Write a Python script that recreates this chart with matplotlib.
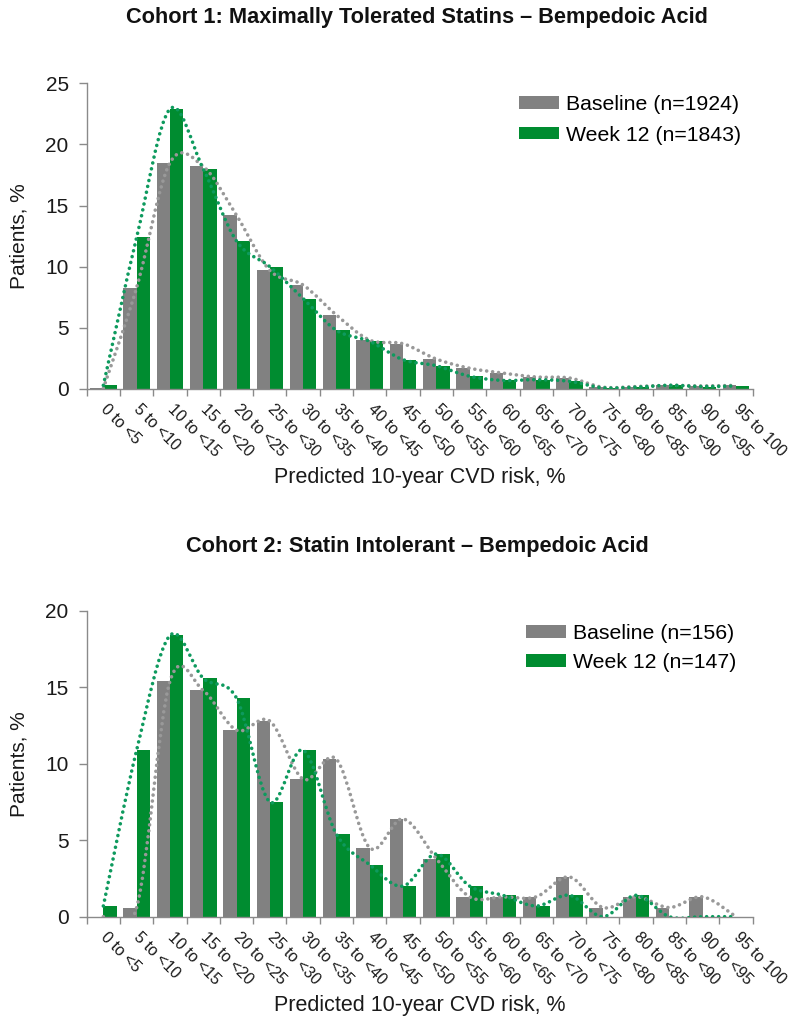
import numpy as np
import matplotlib
matplotlib.use("Agg")
import matplotlib.pyplot as plt
from matplotlib.path import Path
from matplotlib.patches import PathPatch

plt.rcParams['font.family'] = ['Liberation Sans', 'DejaVu Sans']

categories = ["0 to <5", "5 to <10", "10 to <15", "15 to <20", "20 to <25",
              "25 to <30", "30 to <35", "35 to <40", "40 to <45", "45 to <50",
              "50 to <55", "55 to <60", "60 to <65", "65 to <70", "70 to <75",
              "75 to <80", "80 to <85", "85 to <90", "90 to <95", "95 to 100"]

c1_baseline = [0.05, 8.3, 18.5, 18.2, 14.2, 9.7, 8.5, 6.05, 4.0, 3.7,
               2.45, 1.7, 1.3, 0.98, 0.9, 0.15, 0.2, 0.3, 0.25, 0.3]
c1_week12 = [0.3, 12.4, 22.9, 18.0, 12.1, 10.0, 7.4, 4.8, 3.9, 2.4,
             1.9, 1.04, 0.7, 0.76, 0.63, 0.1, 0.15, 0.3, 0.2, 0.25]

c2_baseline = [0.0, 0.6, 15.4, 14.8, 12.2, 12.8, 9.0, 10.3, 4.5, 6.4,
               3.8, 1.3, 1.3, 1.3, 2.6, 0.6, 1.3, 0.6, 1.3, 0.0]
c2_week12 = [0.7, 10.9, 18.4, 15.6, 14.3, 7.5, 10.9, 5.4, 3.4, 2.0,
             4.1, 2.0, 1.4, 0.7, 1.4, 0.0, 1.4, 0.0, 0.0, 0.0]

titles = ["Cohort 1: Maximally Tolerated Statins \u2013 Bempedoic Acid",
          "Cohort 2: Statin Intolerant \u2013 Bempedoic Acid"]
legend_labels = [["Baseline (n=1924)", "Week 12 (n=1843)"],
                 ["Baseline (n=156)", "Week 12 (n=147)"]]
y_max = [25, 20]
xlabel = "Predicted 10-year CVD risk, %"
ylabel = "Patients, %"

GREY = "#818181"
GREEN = "#008C30"
GREY_DOT = "#999999"
GREEN_DOT = "#0E9A5E"
SPINE = "#8A8A8A"

W, H = 790, 1024
fig = plt.figure(figsize=(W / 100, H / 100), dpi=100)


def smooth_path(xs, ys):
    pts = np.column_stack([xs, ys]).astype(float)
    n = len(pts)
    verts = [pts[0]]
    codes = [Path.MOVETO]
    for i in range(n - 1):
        p0 = pts[max(i - 1, 0)]
        p1 = pts[i]
        p2 = pts[i + 1]
        p3 = pts[min(i + 2, n - 1)]
        c1 = p1 + (p2 - p0) / 6.0
        c2 = p2 - (p3 - p1) / 6.0
        verts += [c1, c2, p2]
        codes += [Path.CURVE4] * 3
    return Path(verts, codes)


def px_axes(left, top, right, bottom):
    return [left / W, 1 - bottom / H, (right - left) / W, (bottom - top) / H]


axes_specs = [
    dict(rect=px_axes(86.7, 83.3, 752.6, 389.0), base=c1_baseline, wk=c1_week12,
         title_y=23, leg=(519, 95), lsp=0.55),
    dict(rect=px_axes(86.7, 611.0, 752.6, 916.7), base=c2_baseline, wk=c2_week12,
         title_y=552, leg=(526, 624), lsp=0.48),
]

x = np.arange(len(categories))
for k, spec in enumerate(axes_specs):
    ax = fig.add_axes(spec["rect"])
    b1 = ax.bar(x - 0.2, spec["base"], width=0.4, color=GREY, zorder=2)
    b2 = ax.bar(x + 0.2, spec["wk"], width=0.4, color=GREEN, zorder=2)
    for vals, col in [(spec["base"], GREY_DOT), (spec["wk"], GREEN_DOT)]:
        patch = PathPatch(smooth_path(x, vals), fill=False, edgecolor=col, lw=2.6,
                          linestyle=(0, (0.01, 1.65)), capstyle='round', zorder=3)
        ax.add_patch(patch)

    ax.set_xlim(-0.5, len(categories) - 0.5)
    ax.set_ylim(0, y_max[k])
    ax.set_yticks(np.arange(0, y_max[k] + 1, 5))
    ax.set_xticks(x)
    ax.set_xticklabels(categories, rotation=-45, ha='left', va='center',
                       rotation_mode='anchor', fontsize=11.5, color='#1a1a1a')
    ax.set_xticks(np.arange(-0.5, len(categories), 1), minor=True)
    ax.tick_params(axis='x', which='major', length=0, pad=13)
    ax.tick_params(axis='x', which='minor', length=5, width=1.0, color=SPINE,
                   direction='out')
    ax.tick_params(axis='y', length=6, width=1.0, color=SPINE, pad=7,
                   labelsize=15, labelcolor='#1a1a1a')
    for s in ['top', 'right']:
        ax.spines[s].set_visible(False)
    for s in ['left', 'bottom']:
        ax.spines[s].set_color(SPINE)
        ax.spines[s].set_linewidth(1.0)

    ax.set_xlabel(xlabel, fontsize=15.5, color='#1a1a1a')
    ax.xaxis.set_label_coords(0.5, -0.255)
    ax.set_ylabel(ylabel, fontsize=15, color='#1a1a1a')
    ax.yaxis.set_label_coords(-0.088, 0.5)

    lx, ly = spec["leg"]
    ax.legend([b1, b2], legend_labels[k], loc='upper left',
              bbox_to_anchor=(lx / W, 1 - ly / H), bbox_transform=fig.transFigure,
              frameon=False, fontsize=15.3, handlelength=1.9, handleheight=0.52,
              handletextpad=0.3, labelspacing=spec["lsp"], borderpad=0,
              borderaxespad=0)

    fig.text(417 / W, 1 - spec["title_y"] / H, titles[k], ha='center',
             va='baseline', fontsize=15.7, fontweight='bold', color='#111111')

fig.savefig("out.png", dpi=100)
